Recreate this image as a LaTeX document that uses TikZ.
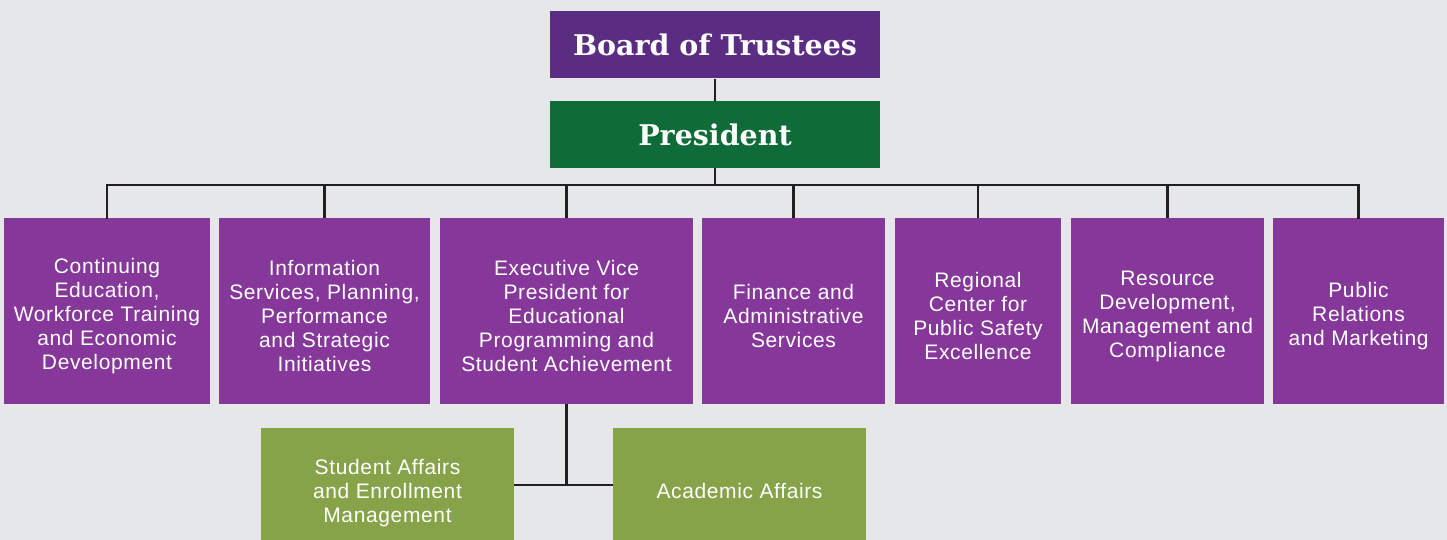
\documentclass[tikz,border=0pt]{standalone}
\usepackage{fontspec}
\setmainfont{Liberation Sans}
\newfontfamily\bodyfont[LetterSpace=3]{Liberation Sans}
\newfontfamily\headfont{DejaVu Serif}
\definecolor{bg}{HTML}{E6E7E9}
\definecolor{boardpurple}{HTML}{5B2D82}
\definecolor{presgreen}{HTML}{0F6B37}
\definecolor{unitpurple}{HTML}{86379A}
\definecolor{olive}{HTML}{86A34A}
\definecolor{linecol}{HTML}{231F20}
\tikzset{
  headbox/.style={minimum width=330pt, minimum height=67pt, inner sep=0pt, text=white,
    font=\headfont\bfseries\fontsize{28.5pt}{32pt}\selectfont},
  unitbox/.style={fill=unitpurple, minimum height=186pt, inner sep=0pt},
  subbox/.style={fill=olive, minimum width=253pt, minimum height=126pt, inner sep=0pt},
  boxtext/.style={text=white, align=center, font=\bodyfont\fontsize{21pt}{24pt}\selectfont},
  conn/.style={draw=linecol, line width=2.7pt}
}
\begin{document}
\begin{tikzpicture}[x=1pt,y=-1pt]
\fill[bg] (0,0) rectangle (1447,540);
\useasboundingbox (0,0) rectangle (1447,540);
\begin{scope}
\clip (0,0) rectangle (1447,540);
\node[headbox, fill=boardpurple] (board) at (715,45) {Board of Trustees};
\node[headbox, fill=presgreen] (pres) at (715,134.5) {President};
\coordinate (bus) at (715,185);

\node[unitbox, minimum width=206pt, label={[boxtext, yshift=-5pt]center:{Continuing\\Education,\\Workforce Training\\and Economic\\Development}}] (b1) at (107,311) {};
\node[unitbox, minimum width=211pt, label={[boxtext, yshift=-5pt]center:{Information\\Services, Planning,\\Performance\\and Strategic\\Initiatives}}] (b2) at (324.5,311) {};
\node[unitbox, minimum width=253pt, label={[boxtext, yshift=-5pt]center:{Executive Vice\\President for\\Educational\\Programming and\\Student Achievement}}] (b3) at (566.5,311) {};
\node[unitbox, minimum width=183pt, label={[boxtext, yshift=-5pt]center:{Finance and\\Administrative\\Services}}] (b4) at (793.5,311) {};
\node[unitbox, minimum width=166pt, label={[boxtext, yshift=-5pt]center:{Regional\\Center for\\Public Safety\\Excellence}}] (b5) at (978,311) {};
\node[unitbox, minimum width=193pt, label={[boxtext, yshift=-5pt]center:{Resource\\Development,\\Management and\\Compliance}}] (b6) at (1167.5,311) {};
\node[unitbox, minimum width=171pt, label={[boxtext, yshift=-5pt]center:{Public\\Relations\\and Marketing}}] (b7) at (1358.5,311) {};

\node[subbox, label={[boxtext, yshift=-2pt]center:{Student Affairs\\and Enrollment\\Management}}] (sa) at (387.5,491) {};
\node[subbox, label={[boxtext]center:{Academic Affairs}}] (aa) at (739.5,491) {};
\coordinate (junc) at (566.5,485);

\draw[conn] (board.south) -- (pres.north);
\draw[conn] (pres.south) -- (bus);
\draw[conn, line cap=rect] (b1.north) |- (bus) -- (bus -| b7.north) -- (b7.north);
\foreach \b in {b2,b3,b4,b5,b6} {\draw[conn] (\b.north) -- (\b.north |- bus);}
\draw[conn] (b3.south) -- (junc);
\draw[conn] (sa.east |- junc) -- (aa.west |- junc);
\end{scope}
\end{tikzpicture}
\end{document}
